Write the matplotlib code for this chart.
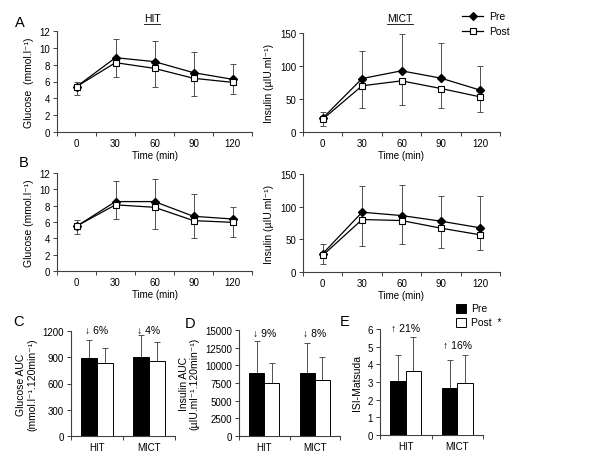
import numpy as np
import matplotlib
matplotlib.use("Agg")
import matplotlib.pyplot as plt
from matplotlib.lines import Line2D
from matplotlib.patches import Rectangle

plt.rcParams['font.family'] = ['Liberation Sans', 'DejaVu Sans']
plt.rcParams['font.size'] = 7

# OGTT time points
times = [0, 30, 60, 90, 120]

# row A
glu_a_pre = [5.39, 8.83, 8.36, 7.05, 6.26]
glu_a_pre_sd = [0.55, 2.17, 2.45, 2.50, 1.78]
glu_a_post = [5.39, 8.24, 7.56, 6.38, 5.90]
glu_a_post_sd = [0.95, 1.67, 2.17, 2.10, 1.35]
ins_a_pre = [21.0, 81.0, 92.7, 81.6, 63.4]
ins_a_pre_sd = [9.4, 41.0, 56.0, 54.0, 37.0]
ins_a_post = [19.3, 70.0, 77.5, 65.9, 53.2]
ins_a_post_sd = [10.2, 33.0, 36.0, 29.0, 22.3]

# row B
glu_b_pre = [5.47, 8.50, 8.50, 6.70, 6.37]
glu_b_pre_sd = [0.82, 2.50, 2.80, 2.67, 1.45]
glu_b_post = [5.50, 8.10, 7.80, 6.17, 5.96]
glu_b_post_sd = [0.98, 1.73, 2.66, 2.14, 1.85]
ins_b_pre = [28.0, 91.5, 86.4, 77.8, 67.6]
ins_b_pre_sd = [14.7, 40.5, 47.3, 38.2, 49.4]
ins_b_post = [25.4, 80.3, 78.8, 67.1, 56.9]
ins_b_post_sd = [13.2, 40.3, 36.1, 30.1, 23.3]

# AUC / ISI bars
groups = ['HIT', 'MICT']
auc_glu_pre = [895, 907]
auc_glu_pre_sd = [206, 247]
auc_glu_post = [830, 857]
auc_glu_post_sd = [176, 213]
auc_ins_pre = [8900, 8900]
auc_ins_pre_sd = [4500, 4250]
auc_ins_post = [7570, 7900]
auc_ins_post_sd = [2830, 3320]
isi_pre = [3.08, 2.68]
isi_pre_sd = [1.47, 1.55]
isi_post = [3.60, 2.94]
isi_post_sd = [1.97, 1.61]
glu_change = ['\u2193 6%', '\u2193 4%']
ins_change = ['\u2193 9%', '\u2193 8%']
isi_change = ['\u2191 21%', '\u2191 16%']

W, H = 589, 460
fig = plt.figure(figsize=(W / 100, H / 100), dpi=100)

AXC = '#404040'
ERRC = '#505050'


def px_axes(x0, y0, x1, y1):
    return fig.add_axes([x0 / W, 1 - y1 / H, (x1 - x0) / W, (y1 - y0) / H])


def style(ax):
    for s in ['top', 'right']:
        ax.spines[s].set_visible(False)
    for s in ['left', 'bottom']:
        ax.spines[s].set_color(AXC)
        ax.spines[s].set_linewidth(0.8)
    ax.tick_params(axis='y', direction='out', length=3, width=0.7,
                   color=AXC, pad=2, labelsize=7)
    ax.tick_params(axis='x', which='major', length=0, pad=4, labelsize=7)
    ax.tick_params(axis='x', which='minor', direction='out', length=3,
                   width=0.7, color=AXC)


def line_panel(ax, pre, pre_sd, post, post_sd, ymax, ystep):
    x = np.arange(len(times))
    z = np.zeros(len(times))
    ax.errorbar(x, pre, yerr=[z, pre_sd], fmt='none', ecolor=ERRC,
                elinewidth=0.7, capsize=2.5, capthick=0.7, zorder=2)
    ax.errorbar(x, post, yerr=[post_sd, z], fmt='none', ecolor=ERRC,
                elinewidth=0.7, capsize=2.5, capthick=0.7, zorder=2)
    ax.plot(x, pre, color='black', lw=0.9, marker='D', ms=3.8,
            mfc='black', mec='black', zorder=3)
    ax.plot(x, post, color='black', lw=0.9, marker='s', ms=5,
            mfc='white', mec='black', mew=0.8, zorder=4)
    ax.set_xlim(-0.5, len(times) - 0.5)
    ax.set_ylim(0, ymax)
    ax.set_yticks(np.arange(0, ymax + 0.01, ystep))
    ax.set_xticks(x)
    ax.set_xticklabels([str(t) for t in times])
    ax.set_xticks(np.arange(-0.5, len(times)), minor=True)
    style(ax)


def bar_panel(ax, pre, pre_sd, post, post_sd, ymax, ystep, changes, label_y):
    x = np.arange(len(groups))
    bw = 0.3
    ax.bar(x - bw / 2, pre, bw, color='black', edgecolor='black', lw=0.7,
           zorder=3)
    ax.bar(x + bw / 2, post, bw, color='white', edgecolor='black', lw=0.7,
           zorder=3)
    z = np.zeros(len(groups))
    ax.errorbar(x - bw / 2, pre, yerr=[z, pre_sd], fmt='none', ecolor=ERRC,
                elinewidth=0.7, capsize=2.5, capthick=0.7, zorder=2)
    ax.errorbar(x + bw / 2, post, yerr=[z, post_sd], fmt='none', ecolor=ERRC,
                elinewidth=0.7, capsize=2.5, capthick=0.7, zorder=2)
    for xi, txt, yy in zip(x, changes, label_y):
        ax.text(xi, yy, txt, ha='center', va='center', fontsize=7.5)
    ax.set_xlim(-0.5, len(groups) - 0.5)
    ax.set_ylim(0, ymax)
    ax.set_yticks(np.arange(0, ymax + 0.01, ystep))
    ax.set_xticks(x)
    ax.set_xticklabels(groups)
    ax.set_xticks(np.arange(-0.5, len(groups)), minor=True)
    style(ax)


# row A
axA1 = px_axes(57, 32, 252, 133)
line_panel(axA1, glu_a_pre, glu_a_pre_sd, glu_a_post, glu_a_post_sd, 12, 2)
axA1.set_ylabel('Glucose  (mmol.l\u207b\u00b9)', fontsize=7.5, labelpad=4)
axA1.set_xlabel('Time (min)', fontsize=7, labelpad=2)

axA2 = px_axes(303, 34, 500, 133)
line_panel(axA2, ins_a_pre, ins_a_pre_sd, ins_a_post, ins_a_post_sd, 150, 50)
axA2.set_ylabel('Insulin (\u00b5IU.ml\u207b\u00b9)', fontsize=7.5, labelpad=4)
axA2.set_xlabel('Time (min)', fontsize=7, labelpad=2)

# row B
axB1 = px_axes(57, 174, 252, 272)
line_panel(axB1, glu_b_pre, glu_b_pre_sd, glu_b_post, glu_b_post_sd, 12, 2)
axB1.set_ylabel('Glucose (mmol.l\u207b\u00b9)', fontsize=7.5, labelpad=4)
axB1.set_xlabel('Time (min)', fontsize=7, labelpad=2)

axB2 = px_axes(303, 175, 500, 273)
line_panel(axB2, ins_b_pre, ins_b_pre_sd, ins_b_post, ins_b_post_sd, 150, 50)
axB2.set_ylabel('Insulin (\u00b5IU.ml\u207b\u00b9)', fontsize=7.5, labelpad=4)
axB2.set_xlabel('Time (min)', fontsize=7, labelpad=2)

# bottom bar panels
axC = px_axes(71, 332, 175, 437)
bar_panel(axC, auc_glu_pre, auc_glu_pre_sd, auc_glu_post, auc_glu_post_sd,
          1200, 300, glu_change, [1210, 1210])
axC.set_ylabel('Glucose AUC\n(mmol.l\u207b\u00b9.120min\u207b\u00b9)',
               fontsize=7.5, labelpad=4, linespacing=1.1)

axD = px_axes(239, 331, 340, 437)
bar_panel(axD, auc_ins_pre, auc_ins_pre_sd, auc_ins_post, auc_ins_post_sd,
          15000, 2500, ins_change, [14550, 14550])
axD.set_ylabel('Insulin AUC\n(\u00b5IU.ml\u207b\u00b9.120min\u207b\u00b9)',
               fontsize=7.5, labelpad=4, linespacing=1.1)

axE = px_axes(380, 330, 483, 436)
bar_panel(axE, isi_pre, isi_pre_sd, isi_post, isi_post_sd, 6, 1,
          isi_change, [6.05, 5.1])
axE.set_ylabel('ISI-Matsuda', fontsize=7.5, labelpad=4)

# panel letters
for lbl, (px, py) in {'A': (20, 23), 'B': (24, 163), 'C': (18, 322),
                      'D': (190, 324), 'E': (345, 322)}.items():
    fig.text(px / W, 1 - py / H, lbl, fontsize=10.5, ha='center', va='center')

# underlined column titles
renderer = fig.canvas.get_renderer()
for title, (px, py) in {'HIT': (152, 19), 'MICT': (400, 19)}.items():
    t = fig.text(px / W, 1 - py / H, title, fontsize=7.5, ha='center',
                 va='center')
    bb = t.get_window_extent(renderer)
    yline = (bb.y0 - 1) / fig.bbox.height
    fig.add_artist(Line2D([bb.x0 / fig.bbox.width, bb.x1 / fig.bbox.width],
                          [yline, yline], color='black', lw=0.6))

# line legend (top right)
for i, (name, mk, fc, ms) in enumerate([('Pre', 'D', 'black', 3.8),
                                        ('Post', 's', 'white', 5)]):
    yy = 1 - (17 + 15 * i) / H
    fig.add_artist(Line2D([462 / W, 483 / W], [yy, yy], color='black',
                          lw=0.9))
    fig.add_artist(Line2D([472.5 / W], [yy], marker=mk, ms=ms, mfc=fc,
                          mec='black', mew=0.8, color='black'))
    fig.text(489 / W, yy, name, fontsize=7.5, va='center')

# bar legend
for i, (name, fc) in enumerate([('Pre', 'black'), ('Post  *', 'white')]):
    yy = (309 + 14.5 * i)
    fig.add_artist(Rectangle((456 / W, 1 - (yy + 4.5) / H), 10 / W, 9 / H,
                             facecolor=fc, edgecolor='black', lw=0.7,
                             transform=fig.transFigure))
    fig.text(471 / W, 1 - yy / H, name, fontsize=7.5, va='center')

fig.savefig('out.png', dpi=100)
